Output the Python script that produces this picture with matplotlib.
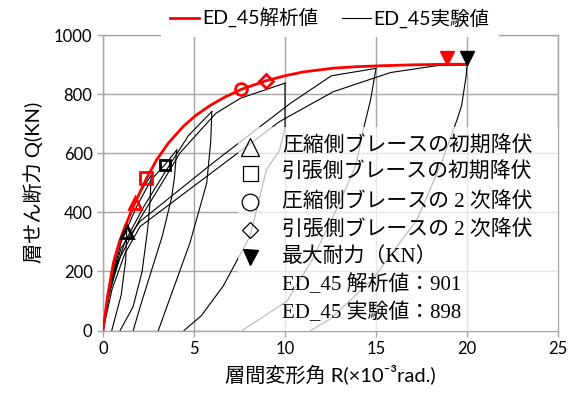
import matplotlib
matplotlib.use("Agg")
import matplotlib.pyplot as plt
from matplotlib.lines import Line2D
from matplotlib.patches import Rectangle
from matplotlib.transforms import offset_copy

# ---------------- data ----------------
# analytical curve (ED_45 解析値)
ana_x = [0, 0.25, 0.57, 0.9, 1.21, 1.75, 2.4, 2.95, 3.6, 4.4, 5.1, 5.9, 6.7, 7.6,
         8.95, 10.0, 11.0, 12.7, 14.0, 15.3, 17.0, 18.9, 20.0]
ana_y = [0, 115, 229, 300, 352, 431, 516, 578, 635, 690, 728, 762, 790, 816,
         845, 862, 875, 888, 893, 896, 899, 901, 901]

# experimental hysteresis branches (ED_45 実験値), positive side
exp_x = [
    [0, 0.25, 0.6, 1.0, 1.3],
    [1.3, 1.25, 1.0, 0.48],
    [0, 0.3, 0.8, 1.5, 2.05, 2.65],
    [2.65, 2.58, 2.45, 2.15, 1.65, 0.94],
    [0, 0.4, 1.0, 1.85, 2.65, 3.4, 4.05],
    [4.05, 3.93, 3.77, 3.26, 2.75, 2.04, 1.66],
    [0, 0.35, 1.2, 2.25, 3.45, 4.7, 5.98],
    [5.98, 5.92, 5.7, 4.78, 3.8, 3.04],
    [0, 0.3, 0.8, 2.05, 3.25, 4.23, 6.2, 7.55, 10.0],
    [10.0, 10.0, 9.7, 8.98, 8.08, 6.6, 5.4, 4.45],
    [0, 0.4, 1.0, 2.03, 6.1, 10.3, 12.55, 15.0],
    [15.0, 14.7, 14.3, 13.9, 13.0, 11.5, 10.1, 7.65],
    [0, 0.5, 1.2, 2.04, 6.1, 9.7, 12.65, 15.8, 18.55, 20.0],
    [20.0, 19.95, 19.7, 19.45, 18.55, 17.25, 14.8, 12.45, 11.4],
]
exp_y = [
    [0, 120, 240, 310, 335],
    [335, 240, 120, 0],
    [0, 130, 270, 400, 470, 525],
    [525, 430, 341, 200, 80, 0],
    [0, 150, 300, 420, 510, 561, 611],
    [611, 520, 450, 320, 220, 80, 0],
    [0, 130, 300, 420, 540, 660, 741],
    [741, 640, 499, 297, 130, 0],
    [0, 110, 230, 380, 500, 601, 735, 786, 837],
    [837, 685, 610, 544, 319, 150, 50, 0],
    [0, 150, 280, 369, 570, 769, 862, 887],
    [887, 780, 679, 560, 432, 240, 99, 0],
    [0, 140, 260, 352, 540, 707, 808, 873, 898, 898],
    [898, 860, 760, 713, 560, 375, 172, 37, 0],
]

# yield points: (R, Q)
ana_tri = (1.75, 431)
ana_sq = (2.37, 516)
ana_cir = (7.6, 816)
ana_dia = (8.95, 845)
ana_max = (18.9, 901)
exp_tri = (1.3, 335)
exp_sq = (3.4, 561)
exp_max = (20.0, 898)

legend_labels = ["ED_45解析値", "ED_45実験値"]
box_labels = ["圧縮側ブレースの初期降伏", "引張側ブレースの初期降伏",
              "圧縮側ブレースの 2 次降伏", "引張側ブレースの 2 次降伏",
              "最大耐力（KN）", "ED_45 解析値：901", "ED_45 実験値：898"]
box_markers = ["^", "s", "o", "D", "v", None, None]

xticks = [0, 5, 10, 15, 20, 25]
yticks = [0, 200, 400, 600, 800, 1000]

# ---------------- figure ----------------
SANS = ["Lato", "Noto Sans CJK JP", "DejaVu Sans"]
SERIF = ["Liberation Serif", "Noto Sans CJK JP", "DejaVu Sans"]
plt.rcParams["font.family"] = SANS

fig = plt.figure(figsize=(5.79, 3.99), dpi=100)
ax = fig.add_axes([103/579, 1-330.5/399, (558-103)/579, (330.5-35)/399])

gridc = "#a6a6a6"
ax.set_xlim(0, 25)
ax.set_ylim(0, 1000)
ax.set_xticks(xticks)
ax.set_yticks(yticks)
ax.grid(True, color=gridc, lw=1.0)
ax.set_axisbelow(True)
for s in ax.spines.values():
    s.set_color(gridc)
    s.set_linewidth(1.0)
ax.tick_params(axis="both", colors=gridc, length=4, width=1.0, labelsize=12,
               labelcolor="black")

for xs, ys in zip(exp_x, exp_y):
    ax.plot(xs, ys, color="black", lw=0.8, zorder=2)

ax.plot(ana_x, ana_y, color="red", lw=2, zorder=4)

rkw = dict(color="none", markerfacecolor="none", markeredgecolor="red",
           markeredgewidth=2, zorder=5, clip_on=False)
ax.plot(*ana_tri, marker="^", ms=8.5, **rkw)
ax.plot(*ana_sq, marker="s", ms=8, **rkw)
ax.plot(*ana_cir, marker="o", ms=8.5, **rkw)
ax.plot(*ana_dia, marker="D", ms=6.8, **rkw)

bkw = dict(color="none", markerfacecolor="none", markeredgecolor="black",
           markeredgewidth=2, zorder=5)
ax.plot(*exp_tri, marker="^", ms=8, **bkw)
ax.plot(*exp_sq, marker="s", ms=7.7, **bkw)

up = offset_copy(ax.transData, fig=fig, x=0, y=4.8, units="points")
ax.plot(*ana_max, marker="v", ms=9.6, color="red", lw=0, transform=up, zorder=6, clip_on=False)
ax.plot(*exp_max, marker="v", ms=9.6, color="black", lw=0, transform=up, zorder=6, clip_on=False)

# translucent annotation box
ax.add_patch(Rectangle((0.297, 0.0), 0.703, 0.689, transform=ax.transAxes,
                       facecolor="white", edgecolor="none", alpha=0.72, zorder=3))

row_y = [0.622, 0.532, 0.436, 0.340, 0.250, 0.154, 0.058]
msizes = {"^": 13, "s": 10.8, "o": 12, "D": 8.1, "v": 10.8}
for lab, mk, yy in zip(box_labels, box_markers, row_y):
    if mk is not None:
        filled = mk == "v"
        ax.plot([0.323], [yy], marker=mk, ms=msizes[mk], transform=ax.transAxes,
                markerfacecolor="black" if filled else "none",
                markeredgecolor="black", markeredgewidth=0.9, lw=0, zorder=7)
    ax.text(0.393, yy, lab, transform=ax.transAxes, va="center", ha="left",
            fontsize=15, family=SERIF, color="black", zorder=7)

ax.set_xlabel("層間変形角 R(×10⁻³rad.)", fontsize=14.5, labelpad=6)
ax.set_ylabel("層せん断力 Q(KN)", fontsize=14.5, labelpad=8)

handles = [Line2D([], [], color="red", lw=2), Line2D([], [], color="black", lw=0.8)]
fig.legend(handles, legend_labels, loc="center", bbox_to_anchor=(330/579, 1-18/399),
           ncol=2, fontsize=14, frameon=True, facecolor="white", edgecolor="none",
           framealpha=1, fancybox=False, handlelength=1.5, handletextpad=0.15,
           columnspacing=1.2, borderpad=0.45)

fig.savefig("out.png", dpi=100)
